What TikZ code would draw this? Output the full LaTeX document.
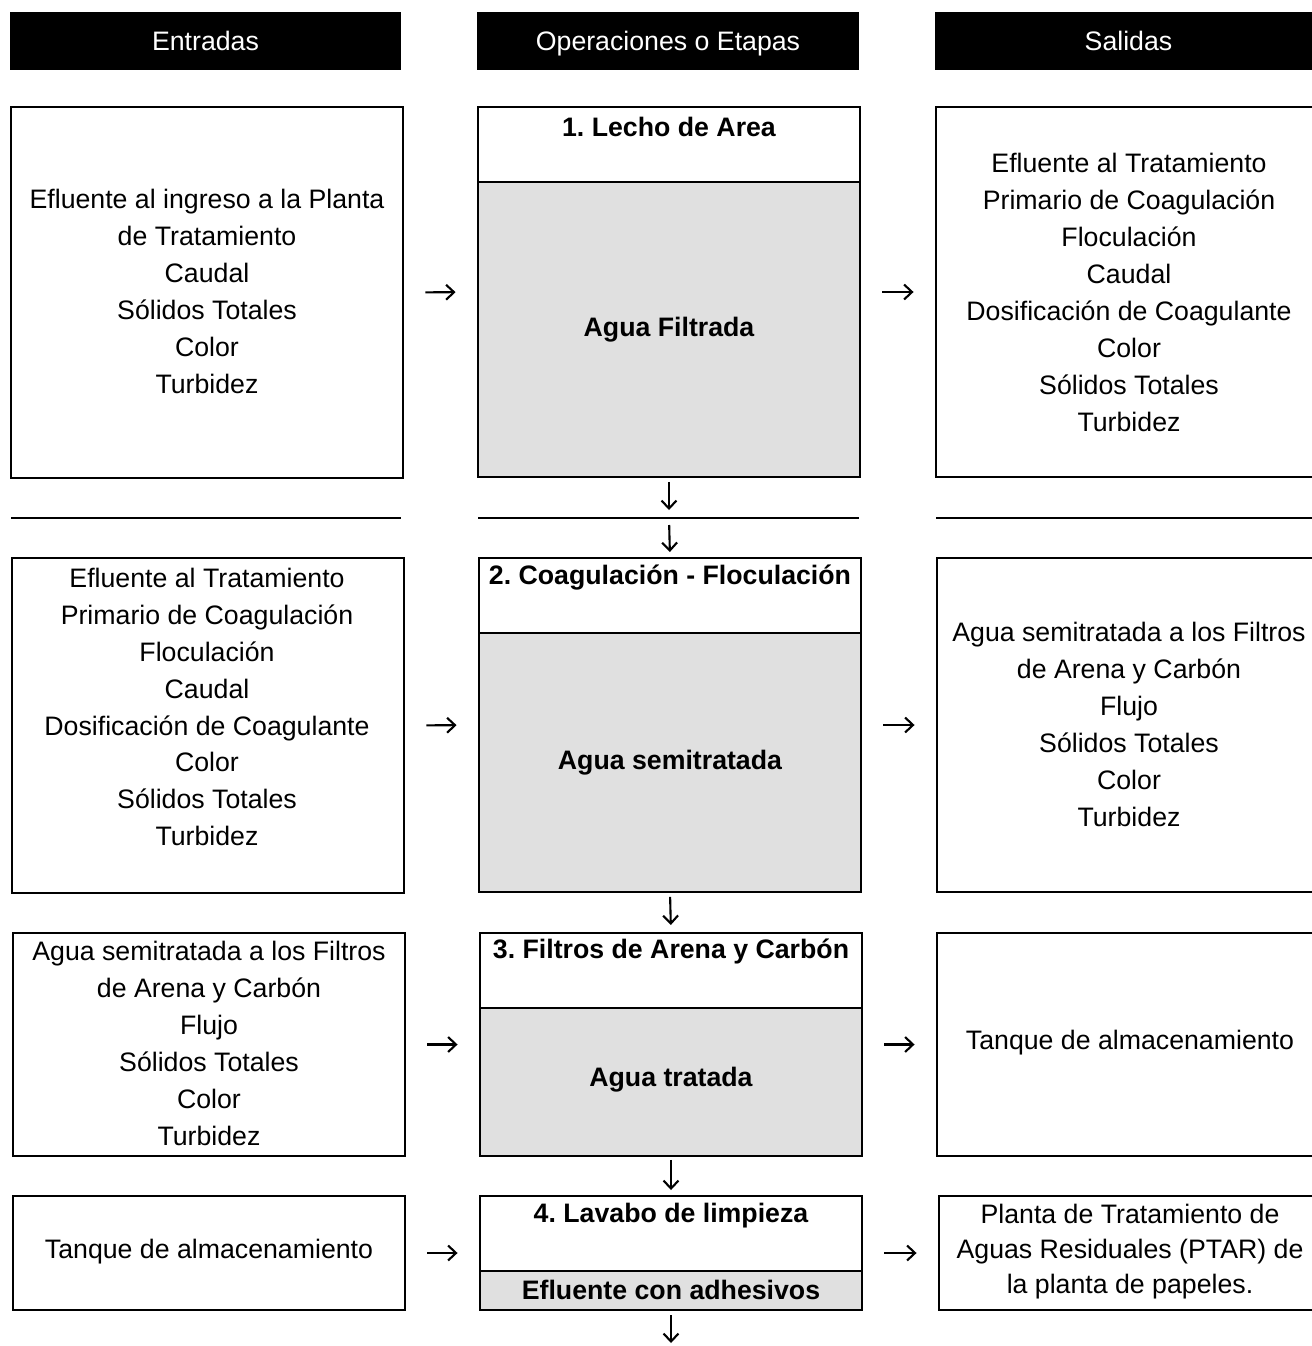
\documentclass[tikz,border=0pt]{standalone}
\usepackage{fontspec}
\setmainfont{Liberation Sans}
\usetikzlibrary{arrows.meta}
\frenchspacing
\begin{document}
\begin{tikzpicture}[x=0.02cm,y=-0.02cm,
  every node/.style={inner sep=0pt, outer sep=0pt, font=\fontsize{15.2}{21}\selectfont},
  hdr/.style={fill=black, text=white, minimum height=1.16cm, text depth=0pt},
  box/.style={draw, line width=1pt},
  openbox/.style={draw=none},
  stage/.style={draw, line width=1pt,
    path picture={
      \fill[black!12] ([yshift=-1.5cm]path picture bounding box.north west) rectangle (path picture bounding box.south east);
      \draw[line width=1pt] ([yshift=-1.5cm]path picture bounding box.north west) -- ([yshift=-1.5cm]path picture bounding box.north east);
    }},
  txt/.style={align=center},
  ttl/.style={align=center, font=\fontsize{15.2}{21}\selectfont\bfseries},
  flow/.style={line width=1.2pt, -{Straight Barb[length=4.5pt,width=8.5pt]}},
  sepline/.style={line width=1pt}
]
\useasboundingbox (0,0) rectangle (1312,1346);

% headers
\node[hdr, minimum width=7.82cm] (H1) at (205.5,41) {Entradas};
\node[hdr, minimum width=7.64cm] (H2) at (668,41) {Operaciones o Etapas};
\node[hdr, minimum width=7.74cm] (H3) at (1128.5,41) {Salidas};

% ---------- row 1
\node[box, minimum width=7.84cm, minimum height=7.42cm] (L1) at (207,292.5) {};
\node[txt] (L1t) at (207,291.5) {Efluente al ingreso a la Planta\\de Tratamiento\\Caudal\\Sólidos Totales\\Color\\Turbidez};
\node[stage, minimum width=7.64cm, minimum height=7.40cm] (M1) at (669,292) {};
\node[ttl] (M1a) at (669,127) {1. Lecho de Area};
\node[ttl] (M1b) at (669,330) {Agua Filtrada};
\node[openbox, minimum width=7.72cm, minimum height=7.40cm] (R1) at (1129,292) {};
\draw[line width=1pt] (R1.north east) -- (R1.north west) -- (R1.south west) -- (R1.south east);
\node[txt] (R1t) at (1129,292.5) {Efluente al Tratamiento\\Primario de Coagulación\\Floculación\\Caudal\\Dosificación de Coagulante\\Color\\Sólidos Totales\\Turbidez};

% separators
\draw[sepline] (11,518) -- (401,518);
\draw[sepline] (478,518) -- (859,518);
\draw[sepline] (936,518) -- (1312,518);
\coordinate (S1) at (669,518);

% ---------- row 2
\node[box, minimum width=7.84cm, minimum height=6.70cm] (L2) at (208,725.5) {};
\node[txt] (L2t) at (207,707) {Efluente al Tratamiento\\Primario de Coagulación\\Floculación\\Caudal\\Dosificación de Coagulante\\Color\\Sólidos Totales\\Turbidez};
\node[stage, minimum width=7.64cm, minimum height=6.68cm] (M2) at (670,725) {};
\node[ttl] (M2a) at (670,578) {2. Coagulación - Floculación};
\node[ttl] (M2b) at (670,763) {Agua semitratada};
\node[openbox, minimum width=7.70cm, minimum height=6.68cm] (R2) at (1129.5,725) {};
\draw[line width=1pt] (R2.north east) -- (R2.north west) -- (R2.south west) -- (R2.south east);
\node[txt] (R2t) at (1129,724.5) {Agua semitratada a los Filtros\\de Arena y Carbón\\Flujo\\Sólidos Totales\\Color\\Turbidez};

% ---------- row 3
\node[box, minimum width=7.84cm, minimum height=4.46cm] (L3) at (209,1044.5) {};
\node[txt] (L3t) at (209,1043.5) {Agua semitratada a los Filtros\\de Arena y Carbón\\Flujo\\Sólidos Totales\\Color\\Turbidez};
\node[stage, minimum width=7.64cm, minimum height=4.46cm] (M3) at (671,1044.5) {};
\node[ttl] (M3a) at (671,951) {3. Filtros de Arena y Carbón};
\node[ttl] (M3b) at (671,1080) {Agua tratada};
\node[openbox, minimum width=7.70cm, minimum height=4.46cm] (R3) at (1129.5,1044.5) {};
\draw[line width=1pt] (R3.north east) -- (R3.north west) -- (R3.south west) -- (R3.south east);
\node[txt] (R3t) at (1130,1043) {Tanque de almacenamiento};

% ---------- row 4
\node[box, minimum width=7.84cm, minimum height=2.28cm] (L4) at (209,1253) {};
\node[txt] (L4t) at (209,1252) {Tanque de almacenamiento};
\node[stage, minimum width=7.64cm, minimum height=2.28cm] (M4) at (671,1253) {};
\node[ttl] (M4a) at (671,1216) {4. Lavabo de limpieza};
\node[ttl] (M4b) at (671,1290) {Efluente con adhesivos};
\node[openbox, minimum width=7.66cm, minimum height=2.28cm] (R4) at (1130.5,1253) {};
\draw[line width=1pt] (R4.north east) -- (R4.north west) -- (R4.south west) -- (R4.south east);
\node[txt, font=\fontsize{15.2}{20}\selectfont] (R4t) at (1130,1251.5) {Planta de Tratamiento de\\Aguas Residuales (PTAR) de\\la planta de papeles.};
\coordinate (E) at (671,1343);

% ---------- horizontal arrows
\foreach \a/\b in {L1/M1, M1/R1, L2/M2, M2/R2, L3/M3, M3/R3, L4/M4, M4/R4}
  \draw[flow, shorten <=0.45cm, shorten >=0.45cm] (\a.east) -- (\b.west);

% ---------- vertical arrows
\draw[flow, shorten <=0.1cm, shorten >=0.16cm] (M1.south) -- (S1);
\draw[flow, shorten <=0.14cm, shorten >=0.12cm] (S1) -- (M2.north);
\draw[flow, shorten <=0.1cm, shorten >=0.16cm] (M2.south) -- (M3.north);
\draw[flow, shorten <=0.08cm, shorten >=0.12cm] (M3.south) -- (M4.north);
\draw[flow, shorten <=0.1cm] (M4.south) -- (E);
\end{tikzpicture}
\end{document}
